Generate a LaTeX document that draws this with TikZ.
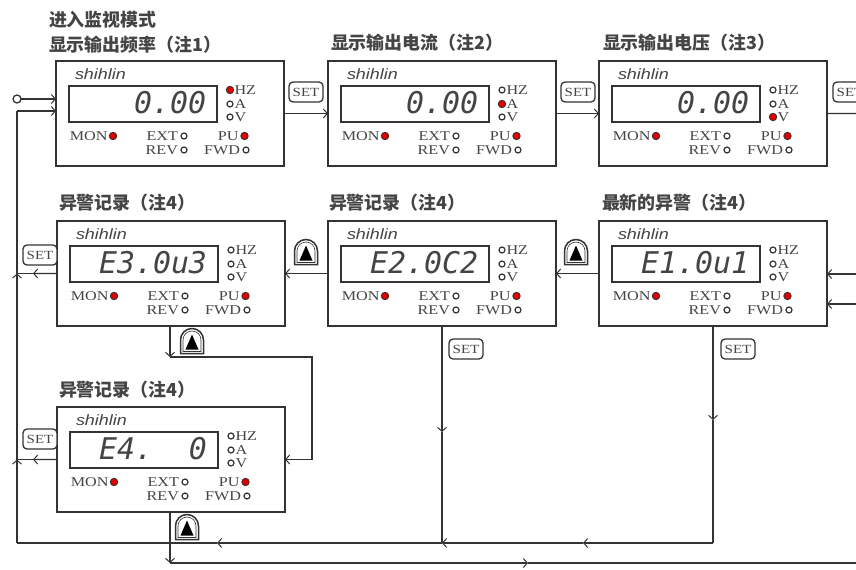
\documentclass[tikz,border=0pt]{standalone}
\usepackage{fontspec}
\setmainfont{Liberation Serif}
\newfontfamily\cjk{Noto Sans CJK SC}
\newfontfamily\lcdfont{DejaVu Sans Mono}
\newfontfamily\brand[FakeStretch=1.2]{Liberation Sans}
\newfontfamily\lblfont[FakeStretch=1.2]{Liberation Serif}
\usetikzlibrary{arrows.meta}
\definecolor{ink}{HTML}{333333}
\definecolor{txt}{HTML}{444444}
\definecolor{ledred}{HTML}{E00000}
\tikzset{
 every node/.style={inner sep=0pt, outer sep=0pt},
 panel/.style={draw=ink, line width=1.5bp, minimum width=228bp, minimum height=105bp, anchor=north west},
 lcd/.style={draw=ink, line width=1.2bp, minimum width=148bp, minimum height=36bp, anchor=north west},
 brandtxt/.style={font=\brand\itshape\fontsize{15}{15}\selectfont, text=txt, anchor=west},
 digits/.style={font=\lcdfont\itshape\fontsize{30}{30}\selectfont, text=txt, anchor=east},
 lbl/.style={font=\lblfont\fontsize{13.5}{13.5}\selectfont, text=txt},
 ledon/.style={circle, draw=ink, line width=0.8bp, fill=ledred, minimum size=7.5bp},
 ledoff/.style={circle, draw=ink, line width=1.2bp, fill=white, minimum size=6bp},
 title/.style={font=\cjk\bfseries\fontsize{18}{18}\selectfont, text=txt, anchor=west},
 conn/.style={draw=ink, line width=1.4bp},
 arr/.style={conn, -{Straight Barb[length=4bp,width=9bp,line width=1bp]}},
 setkey/.style={draw=ink, fill=white, line width=1.3bp, rounded corners=4bp, minimum width=34bp, minimum height=20bp, font=\lblfont\fontsize{12.5}{12.5}\selectfont, text=txt},
}
\newcommand\mkpanel[7]{%
 \node[panel] (#1) at (#2,#3) {};
 \begin{scope}[shift={(#2,#3)}]
  \node[brandtxt] (#1-brand) at (19,13) {shihlin};
  \node[lcd] (#1-lcd) at (13,25) {};
  \node[digits] (#1-dig) at (150,42) {#4};
  \node[#5] (#1-hz) at (174,29) {};
  \node[#6] (#1-a) at (174,43) {};
  \node[#7] (#1-v) at (174,56) {};
  \node[lbl,anchor=west] (#1-hzl) at (178.5,29) {HZ};
  \node[lbl,anchor=west] (#1-al) at (178.5,43) {A};
  \node[lbl,anchor=west] (#1-vl) at (178.5,56) {V};
  \node[lbl,anchor=east] (#1-mon) at (51.5,75) {MON};
  \node[ledon] (#1-mond) at (57,75) {};
  \node[lbl,anchor=east] (#1-ext) at (122,75) {EXT};
  \node[ledoff] (#1-extd) at (128,75) {};
  \node[lbl,anchor=east] (#1-pu) at (182.5,75) {PU};
  \node[ledon] (#1-pud) at (188.5,75) {};
  \node[lbl,anchor=east] (#1-rev) at (122,89) {REV};
  \node[ledoff] (#1-revd) at (128,89) {};
  \node[lbl,anchor=east] (#1-fwd) at (184,89) {FWD};
  \node[ledoff] (#1-fwdd) at (190,89) {};
 \end{scope}}
\newcommand\upkey[3]{%
 \coordinate (#1) at (#2,#3);
 \draw[ink, fill=white, line width=1.5bp] (#2-11.5,#3+12.5) -- (#2-11.5,#3-1) arc[start angle=180,end angle=360,radius=11.5] -- (#2+11.5,#3+12.5) -- cycle;
 \draw[ink, line width=0.6bp] (#2-9,#3+10.5) -- (#2-9,#3-1) arc[start angle=180,end angle=360,radius=9] -- (#2+9,#3+10.5) -- cycle;
 \fill[black] (#2-6.5,#3+8.5) -- (#2+6.5,#3+8.5) -- (#2,#3-6.5) -- cycle;}
\begin{document}
\begin{tikzpicture}[x=1bp,y=-1bp]
\useasboundingbox (0,0) rectangle (856,570);
% titles
\node[title] (t0) at (49,20) {进入监视模式};
\node[title] (t1) at (49,45) {显示输出频率（注1）};
\node[title] (t2) at (331,43) {显示输出电流（注2）};
\node[title] (t3) at (603,43) {显示输出电压（注3）};
\node[title] (t4) at (59,203) {异警记录（注4）};
\node[title] (t5) at (329,203) {异警记录（注4）};
\node[title] (t6) at (602,203) {最新的异警（注4）};
\node[title] (t7) at (59,390) {异警记录（注4）};
% panels
\mkpanel{p1}{56}{61}{0.00}{ledon}{ledoff}{ledoff}
\mkpanel{p2}{328}{61}{0.00}{ledoff}{ledon}{ledoff}
\mkpanel{p3}{599}{61}{0.00}{ledoff}{ledoff}{ledon}
\mkpanel{e3}{57}{221}{E3.0u3}{ledoff}{ledoff}{ledoff}
\mkpanel{e2}{328}{221}{E2.0C2}{ledoff}{ledoff}{ledoff}
\mkpanel{e1}{599}{221}{E1.0u1}{ledoff}{ledoff}{ledoff}
\mkpanel{e4}{57}{407}{E4.\hphantom{00}0}{ledoff}{ledoff}{ledoff}
% coordinates
\node[circle, draw=ink, line width=1.3bp, minimum size=8bp] (start) at (17,99) {};
\coordinate (L1) at (17,111);
\coordinate (La3) at (17,273.5);
\coordinate (La4) at (17,459.5);
\coordinate (Lb) at (17,543);
\coordinate (x3) at (33,273.5);
\coordinate (x4) at (33,459.5);
\coordinate (B1) at (713,543);
\coordinate (B2) at (583,543);
\coordinate (Bj) at (442,543);
\coordinate (B3) at (217,543);
\coordinate (d1) at (713,420);
\coordinate (d2) at (442,432);
\coordinate (d3) at (170,357);
\coordinate (d3r) at (312,357);
\coordinate (c4) at (170,563);
\coordinate (R2) at (528,563);
\coordinate (edgeA) at (856,563);
\coordinate (rin1) at (856,274);
\coordinate (rin2) at (856,304);
\coordinate (rout) at (856,113.5);
% connectors
\draw[arr] (start.east) -- (start -| p1.west);
\draw[arr] (L1) -- (L1 -| p1.west);
\draw[arr] (p1.east) -- (p2.west);
\draw[arr] (p2.east) -- (p3.west);
\draw[conn] (p3.east) -- (rout);
\draw[arr] (rin1) -- (rin1 -| e1.east);
\draw[arr] (rin2) -- (rin2 -| e1.east);
\draw[arr] (e1.west) -- (e2.east);
\draw[arr] (e2.west) -- (e3.east);
\draw[arr] (e3.west) -- (x3);
\draw[conn] (x3) -- (La3);
\draw[arr] (e4.west) -- (x4);
\draw[conn] (x4) -- (La4);
\draw[arr] (Lb) -- (La4);
\draw[arr] (La4) -- (La3);
\draw[conn] (La3) -- (L1);
\draw[arr] (e1.south -| d1) -- (d1);
\draw[conn] (d1) -- (B1);
\draw[arr] (B1) -- (B2);
\draw[arr] (B2) -- (Bj);
\draw[arr] (Bj) -- (B3);
\draw[conn] (B3) -- (Lb);
\draw[arr] (e2.south -| d2) -- (d2);
\draw[conn] (d2) -- (Bj);
\draw[arr] (e3.south -| d3) -- (d3);
\draw[arr] (d3) -- (d3r) -- (d3r |- e4.east) -- (e4.east);
\draw[arr] (e4.south -| c4) -- (c4);
\draw[arr] (c4) -- (R2);
\draw[conn] (R2) -- (edgeA);
% keys
\node[setkey] (s1) at (306,92) {SET};
\node[setkey] (s2) at (578,92) {SET};
\node[setkey] (s3) at (850,92) {SET};
\node[setkey] (s4) at (40,255) {SET};
\node[setkey] (s5) at (40,439) {SET};
\node[setkey] (s6) at (466,349) {SET};
\node[setkey] (s7) at (738,349) {SET};
\upkey{u1}{576}{252}
\upkey{u2}{306}{252}
\upkey{u3}{192}{341}
\upkey{u4}{187}{527}
\end{tikzpicture}
\end{document}
